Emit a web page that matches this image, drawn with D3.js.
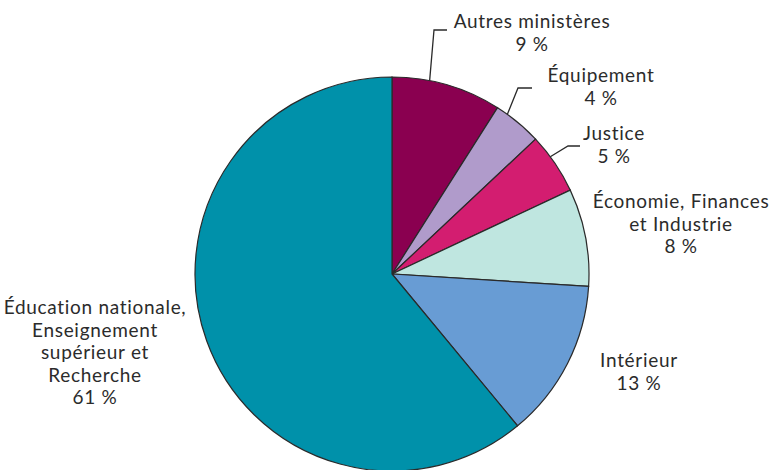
<!DOCTYPE html>
<html>
<head>
<meta charset="utf-8">
<script src="https://cdn.jsdelivr.net/npm/d3@7"></script>
<style>
  body { margin: 0; background: #fff; }
  text { font-family: Lato, "Open Sans", sans-serif; font-size: 19px; letter-spacing: 0.7px; fill: #2b2b2b; }
</style>
</head>
<body>
<svg id="chart" width="781" height="470"></svg>
<script>
// ministries, clockwise from 12 o'clock
var categories = ["Autres ministères", "Équipement", "Justice",
  "Économie, Finances et Industrie", "Intérieur",
  "Éducation nationale, Enseignement supérieur et Recherche"];
var shares = [9, 4, 5, 8, 13, 61];
var labelLines = [
  ["Autres ministères", "9 %"],
  ["Équipement", "4 %"],
  ["Justice", "5 %"],
  ["Économie, Finances", "et Industrie", "8 %"],
  ["Intérieur", "13 %"],
  ["Éducation nationale,", "Enseignement", "supérieur et", "Recherche", "61 %"]
];
var colors = ["#8a0050", "#b09bcb", "#d31d70", "#bfe6e0", "#689cd4", "#0091aa"];

var svg = d3.select("#chart"),
  cx = 392, cy = 274, r = 197;

var pie = d3.pie().sort(null).value(function(d) { return d; });
var arc = d3.arc().innerRadius(0).outerRadius(r);
var arcs = pie(shares);

var g = svg.append("g").attr("transform", "translate(" + cx + "," + cy + ")");

g.selectAll("path")
  .data(arcs)
  .enter().append("path")
    .attr("d", arc)
    .attr("fill", function(d, i) { return colors[i]; })
    .attr("stroke", "#2a2a2a")
    .attr("stroke-width", 1.2);

// label anchor (x center, first baseline)
var labelPos = [
  [532, 28], [601, 82], [614, 140], [681, 208], [639, 367], [95, 314]
];
var lineH = 22.5;

labelLines.forEach(function(lines, i) {
  var t = svg.append("text")
    .attr("text-anchor", "middle")
    .attr("x", labelPos[i][0])
    .attr("y", labelPos[i][1]);
  lines.forEach(function(s, k) {
    t.append("tspan")
      .attr("x", labelPos[i][0])
      .attr("dy", k === 0 ? 0 : lineH)
      .text(s);
  });
});

// leader lines for the small slices at the top
var leaders = [
  { i: 0, f: 0.34, elbow: [434, 30], end: [447, 30] },
  { i: 1, f: 0.24, elbow: [518, 88], end: [532, 88] },
  { i: 2, f: 0.37, elbow: [568, 146], end: [580, 146] }
];
leaders.forEach(function(l) {
  var a = arcs[l.i];
  var ang = a.startAngle + (a.endAngle - a.startAngle) * l.f;
  var p = [cx + r * Math.sin(ang), cy - r * Math.cos(ang)];
  svg.append("path")
    .attr("d", d3.line()([p, l.elbow, l.end]))
    .attr("fill", "none")
    .attr("stroke", "#2a2a2a")
    .attr("stroke-width", 1.3);
});
</script>
</body>
</html>
